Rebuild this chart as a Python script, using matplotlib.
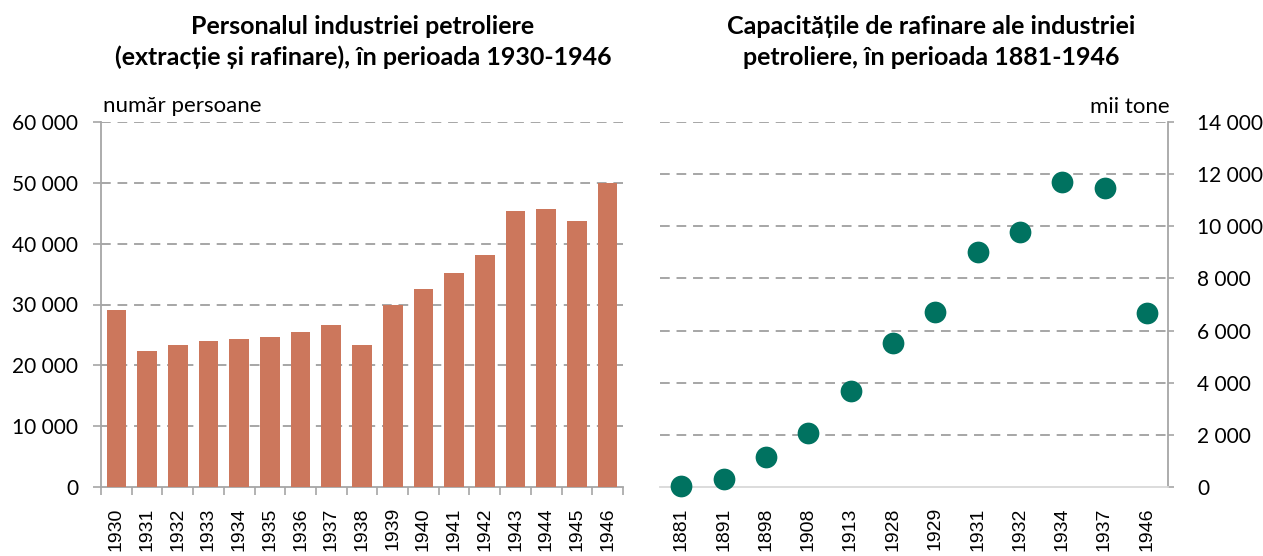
import matplotlib
matplotlib.use("Agg")
import matplotlib.pyplot as plt
from matplotlib.ticker import FuncFormatter, FixedLocator
import numpy as np

# ---- data ----
pers_years = ["1930", "1931", "1932", "1933", "1934", "1935", "1936", "1937", "1938",
              "1939", "1940", "1941", "1942", "1943", "1944", "1945", "1946"]
pers_values = [29100, 22400, 23400, 24000, 24400, 24700, 25400, 26700, 23400,
               30000, 32600, 35200, 38200, 45400, 45700, 43800, 50000]

cap_years = ["1881", "1891", "1898", "1908", "1913", "1928", "1929", "1931",
             "1932", "1934", "1937", "1946"]
cap_values = [50, 290, 1150, 2060, 3680, 5510, 6730, 9030, 9800, 11700, 11480, 6660]

left_title = "Personalul industriei petroliere\n(extracție și rafinare), în perioada 1930-1946"
right_title = "Capacitățile de rafinare ale industriei\npetroliere, în perioada 1881-1946"
left_unit = "număr persoane"
right_unit = "mii tone"

BAR = "#CC775C"
DOT = "#007260"
GRID = "#A6A6A6"
AXIS = "#A6A6A6"
FONT = ["Lato", "DejaVu Sans"]
YEARFONT = ["Liberation Sans", "DejaVu Sans"]

W, H = 1263, 556
fig = plt.figure(figsize=(W / 100, H / 100), dpi=100)


def fx(px):
    return px / W


def fy(py):
    return 1 - py / H


def sep(v, pos=None):
    return f"{int(v):,}".replace(",", " ")


# ---- left chart ----
axL = fig.add_axes([fx(101), fy(487), fx(623) - fx(101), fy(122) - fy(487)])
x = np.arange(len(pers_years))
axL.bar(x, pers_values, width=0.64, color=BAR, zorder=3)
axL.set_xlim(-0.5, len(pers_years) - 0.5)
axL.set_ylim(0, 60000)
axL.set_yticks(np.arange(0, 60001, 10000))
axL.yaxis.set_major_formatter(FuncFormatter(sep))
axL.set_xticks(x)
axL.set_xticklabels(pers_years, rotation=90, family=YEARFONT, fontsize=14)
axL.xaxis.set_minor_locator(FixedLocator(np.arange(-0.5, len(pers_years), 1.0)))
axL.tick_params(axis="x", which="major", length=0, pad=14.5)
axL.tick_params(axis="x", which="minor", length=5.5, width=1.2, color=AXIS)
axL.tick_params(axis="y", length=5.5, width=1.2, color=AXIS, pad=11, labelsize=15)
for lab in axL.get_yticklabels():
    lab.set_family(FONT)
for s in ["top", "right"]:
    axL.spines[s].set_visible(False)
for s in ["left", "bottom"]:
    axL.spines[s].set_color(AXIS)
    axL.spines[s].set_linewidth(1.3)
for yv in np.arange(10000, 60001, 10000):
    axL.axhline(yv, color=GRID, lw=1.4, ls=(0, (5, 3.5)), zorder=1)

fig.text(fx(103), fy(106), left_unit, ha="left", va="center", fontsize=16, family=FONT)
fig.text(fx(363), fy(42), left_title, ha="center", va="center", fontsize=18,
         fontweight="bold", family=FONT, linespacing=1.38)

# ---- right chart ----
axR = fig.add_axes([fx(660), fy(487), fx(1168) - fx(660), fy(122) - fy(487)])
xr = np.arange(len(cap_years))
axR.scatter(xr, cap_values, s=245, color=DOT, zorder=4, clip_on=False, linewidths=0)
axR.set_xlim(-0.5, len(cap_years) - 0.5)
axR.set_ylim(0, 14000)
axR.set_yticks(np.arange(0, 14001, 2000))
axR.yaxis.set_major_formatter(FuncFormatter(sep))
axR.yaxis.tick_right()
axR.set_xticks(xr)
axR.set_xticklabels(cap_years, rotation=90, family=YEARFONT, fontsize=14)
axR.tick_params(axis="x", length=0, pad=14.5)
axR.tick_params(axis="y", length=4, width=1.2, color=AXIS, pad=17, labelsize=15)
for lab in axR.get_yticklabels():
    lab.set_family(FONT)
for s in ["top", "left"]:
    axR.spines[s].set_visible(False)
axR.spines["right"].set_color(AXIS)
axR.spines["right"].set_linewidth(1.3)
axR.spines["bottom"].set_color("#D9D9D9")
axR.spines["bottom"].set_linewidth(1.3)
for yv in np.arange(2000, 14001, 2000):
    axR.axhline(yv, color=GRID, lw=1.4, ls=(0, (5, 3.5)), zorder=1)

fig.text(fx(1170), fy(107), right_unit, ha="right", va="center", fontsize=16, family=FONT)
fig.text(fx(931), fy(42), right_title, ha="center", va="center", fontsize=18,
         fontweight="bold", family=FONT, linespacing=1.38)

fig.savefig("out.png", dpi=100)
